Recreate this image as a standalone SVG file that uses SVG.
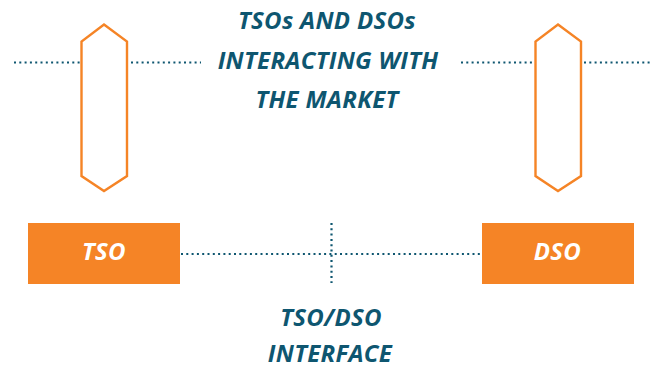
<svg xmlns="http://www.w3.org/2000/svg" width="654" height="367" viewBox="0 0 654 367">
<style>
.dot{stroke:#0e5670;stroke-width:2.2;stroke-dasharray:2 3.3;fill:none}
.hex{fill:#fff;stroke:#f58426;stroke-width:2.4;stroke-linejoin:miter}
.box{fill:#f58426}
.lbl{font-family:"Open Sans",sans-serif;font-style:italic;font-weight:700;font-size:24px;text-anchor:middle;letter-spacing:0.3px}
.t{fill:#0e5670}
.w{fill:#fff}
</style>
<g id="connectors">
<line class="dot" x1="14" y1="62.5" x2="80" y2="62.5"/>
<line class="dot" x1="131" y1="62.5" x2="201" y2="62.5"/>
<line class="dot" x1="461" y1="62.5" x2="533" y2="62.5"/>
<line class="dot" x1="584" y1="62.5" x2="650" y2="62.5"/>
<line class="dot" x1="181" y1="254" x2="481" y2="254"/>
<line class="dot" x1="331.5" y1="223" x2="331.5" y2="283"/>
</g>
<g id="hex-left">
<polygon class="hex" points="104,24.5 127,41.5 127,176 104,191 81.5,176 81.5,41.5"/>
</g>
<g id="hex-right">
<polygon class="hex" points="558,24.5 581,41.5 581,176 558,191 535.5,176 535.5,41.5"/>
</g>
<g id="title">
<text class="lbl t" x="327" y="29">TSOs AND DSOs</text>
<text class="lbl t" x="328" y="69">INTERACTING WITH</text>
<text class="lbl t" x="327" y="108">THE MARKET</text>
</g>
<g id="tso">
<rect class="box" x="28" y="223" width="152" height="61"/>
<text class="lbl w" x="104" y="260">TSO</text>
</g>
<g id="dso">
<rect class="box" x="482" y="223" width="152" height="61"/>
<text class="lbl w" x="557.5" y="260">DSO</text>
</g>
<g id="interface">
<text class="lbl t" x="331" y="326">TSO/DSO</text>
<text class="lbl t" x="330" y="362">INTERFACE</text>
</g>
</svg>
